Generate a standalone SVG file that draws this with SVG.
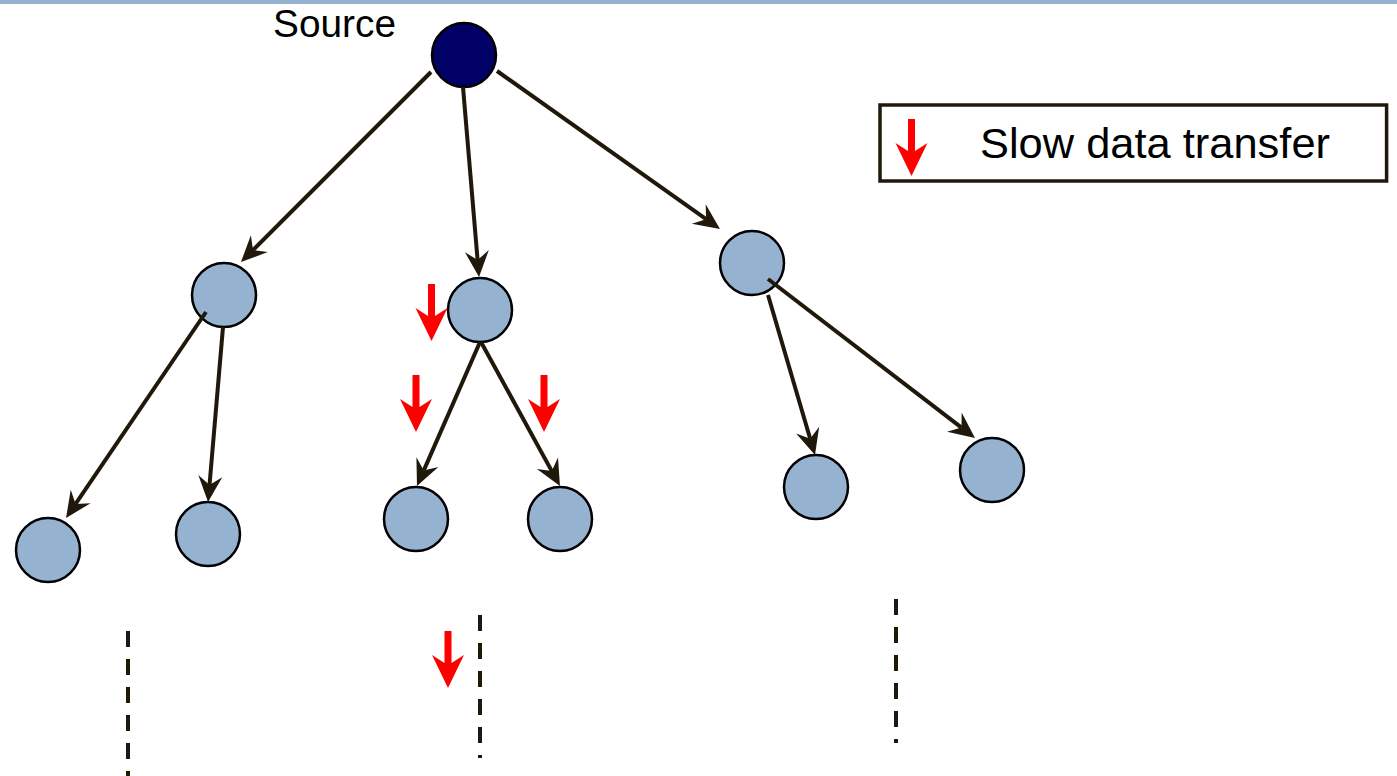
<svg xmlns="http://www.w3.org/2000/svg" xmlns:xlink="http://www.w3.org/1999/xlink" width="1397" height="776" viewBox="0 0 1397 776">
<style>
.node{fill:#95b3d0;stroke:#000;stroke-width:2.5}
.src{fill:#000066;stroke:#000;stroke-width:2.5}
.edge{stroke:#20180a;stroke-width:4;fill:none;marker-end:url(#ah)}
.dash{stroke:#20180a;stroke-width:4;stroke-dasharray:16 12;fill:none}
.red{fill:#ff0000}
.lbl{font-family:"Liberation Sans",Arial,sans-serif;fill:#000}
</style>
<defs>
<marker id="ah" markerUnits="userSpaceOnUse" viewBox="-10 -13 28 26" refX="0" refY="0" markerWidth="28" markerHeight="26" orient="auto">
<path d="M17,0 L-9,-12 L0,0 L-9,12 Z" fill="#20180a"/>
</marker>
<path id="slow" d="M-3.5,0 H3.5 V32 L16,24 L0,57 L-16,24 L-3.5,32 Z"/>
</defs>
<rect x="0" y="0" width="1397" height="4" fill="#95b3d0"/>
<g id="node-source"><circle class="src" cx="464" cy="55" r="32"/><text class="lbl" x="273" y="37" font-size="39" textLength="123" lengthAdjust="spacingAndGlyphs">Source</text></g>
<g id="node-l"><circle class="node" cx="224" cy="295" r="32"/></g>
<g id="node-m"><circle class="node" cx="480" cy="310" r="32"/></g>
<g id="node-r"><circle class="node" cx="752" cy="263" r="32"/></g>
<g id="node-ll"><circle class="node" cx="48" cy="550" r="32"/></g>
<g id="node-lr"><circle class="node" cx="208" cy="534" r="32"/></g>
<g id="node-ml"><circle class="node" cx="416" cy="519" r="32"/></g>
<g id="node-mr"><circle class="node" cx="560" cy="519" r="32"/></g>
<g id="node-rl"><circle class="node" cx="816" cy="487" r="32"/></g>
<g id="node-rr"><circle class="node" cx="992" cy="470" r="32"/></g>
<g id="connectors">
<line class="edge" x1="431" y1="72" x2="253" y2="250"/>
<line class="edge" x1="463" y1="87" x2="477.6" y2="260.1"/>
<line class="edge" x1="497" y1="71" x2="706.1" y2="219.2"/>
<line class="edge" x1="206" y1="312" x2="75.6" y2="503.9"/>
<line class="edge" x1="223" y1="327" x2="209.5" y2="485.1"/>
<line class="edge" x1="480" y1="342" x2="423.8" y2="470.4"/>
<line class="edge" x1="481" y1="342" x2="551.8" y2="471.1"/>
<line class="edge" x1="768" y1="295" x2="810.2" y2="438.7"/>
<line class="edge" x1="768" y1="279" x2="961.5" y2="427.6"/>
<line class="dash" x1="128" y1="631" x2="128" y2="776"/>
<line class="dash" x1="480" y1="615" x2="480" y2="758"/>
<line class="dash" x1="896" y1="599" x2="896" y2="743"/>
</g>
<g id="slow-arrows">
<use xlink:href="#slow" class="red" x="431.5" y="284"/>
<use xlink:href="#slow" class="red" x="416" y="375"/>
<use xlink:href="#slow" class="red" x="544" y="375"/>
<use xlink:href="#slow" class="red" x="448" y="631"/>
</g>
<g id="legend">
<rect x="880" y="105" width="506.6" height="76" fill="#fff" stroke="#20180a" stroke-width="3.5"/>
<use xlink:href="#slow" class="red" x="911.5" y="119"/>
<text class="lbl" x="980" y="158" font-size="43" textLength="350" lengthAdjust="spacingAndGlyphs">Slow data transfer</text>
</g>
</svg>
